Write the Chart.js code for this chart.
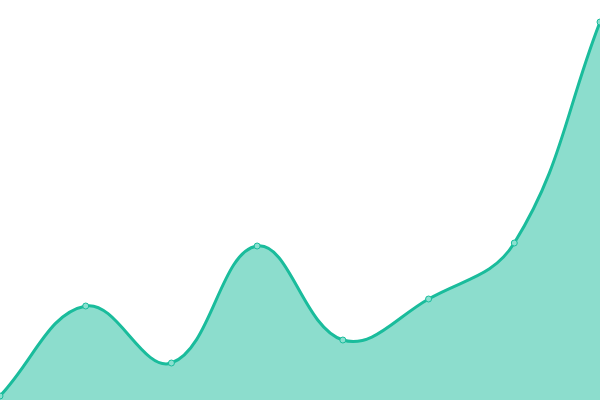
<!DOCTYPE html>
<html><head><meta charset="utf-8">
<style>html,body{margin:0;padding:0;background:#fff}#wrap{width:600px;height:400px}</style>
<script src="https://cdn.jsdelivr.net/npm/chart.js"></script>
</head><body><div id="wrap"><canvas id="c"></canvas></div>
<script>
const labels = ["1","2","3","4","5","6","7","8"];
const values = [4, 94, 37, 154, 60, 101, 157, 378];
new Chart(document.getElementById('c'), {
  type: 'line',
  data: { labels: labels, datasets: [{
    data: values,
    fill: 'origin',
    borderColor: 'rgb(26,188,156)',
    backgroundColor: 'rgba(26,188,156,0.5)',
    borderWidth: 3,
    tension: 0.4,
    pointRadius: 3,
    pointBorderWidth: 1,
    pointBackgroundColor: 'rgb(139,224,208)',
    pointBorderColor: 'rgb(26,188,156)'
  }]},
  options: {
    responsive: true, maintainAspectRatio: false, animation: false,
    layout: { padding: 0, autoPadding: false },
    plugins: { legend: { display: false }, tooltip: { enabled: false } },
    scales: {
      x: { display: false, offset: false },
      y: { display: false, min: 0, max: 400 }
    }
  }
});
</script></body></html>
